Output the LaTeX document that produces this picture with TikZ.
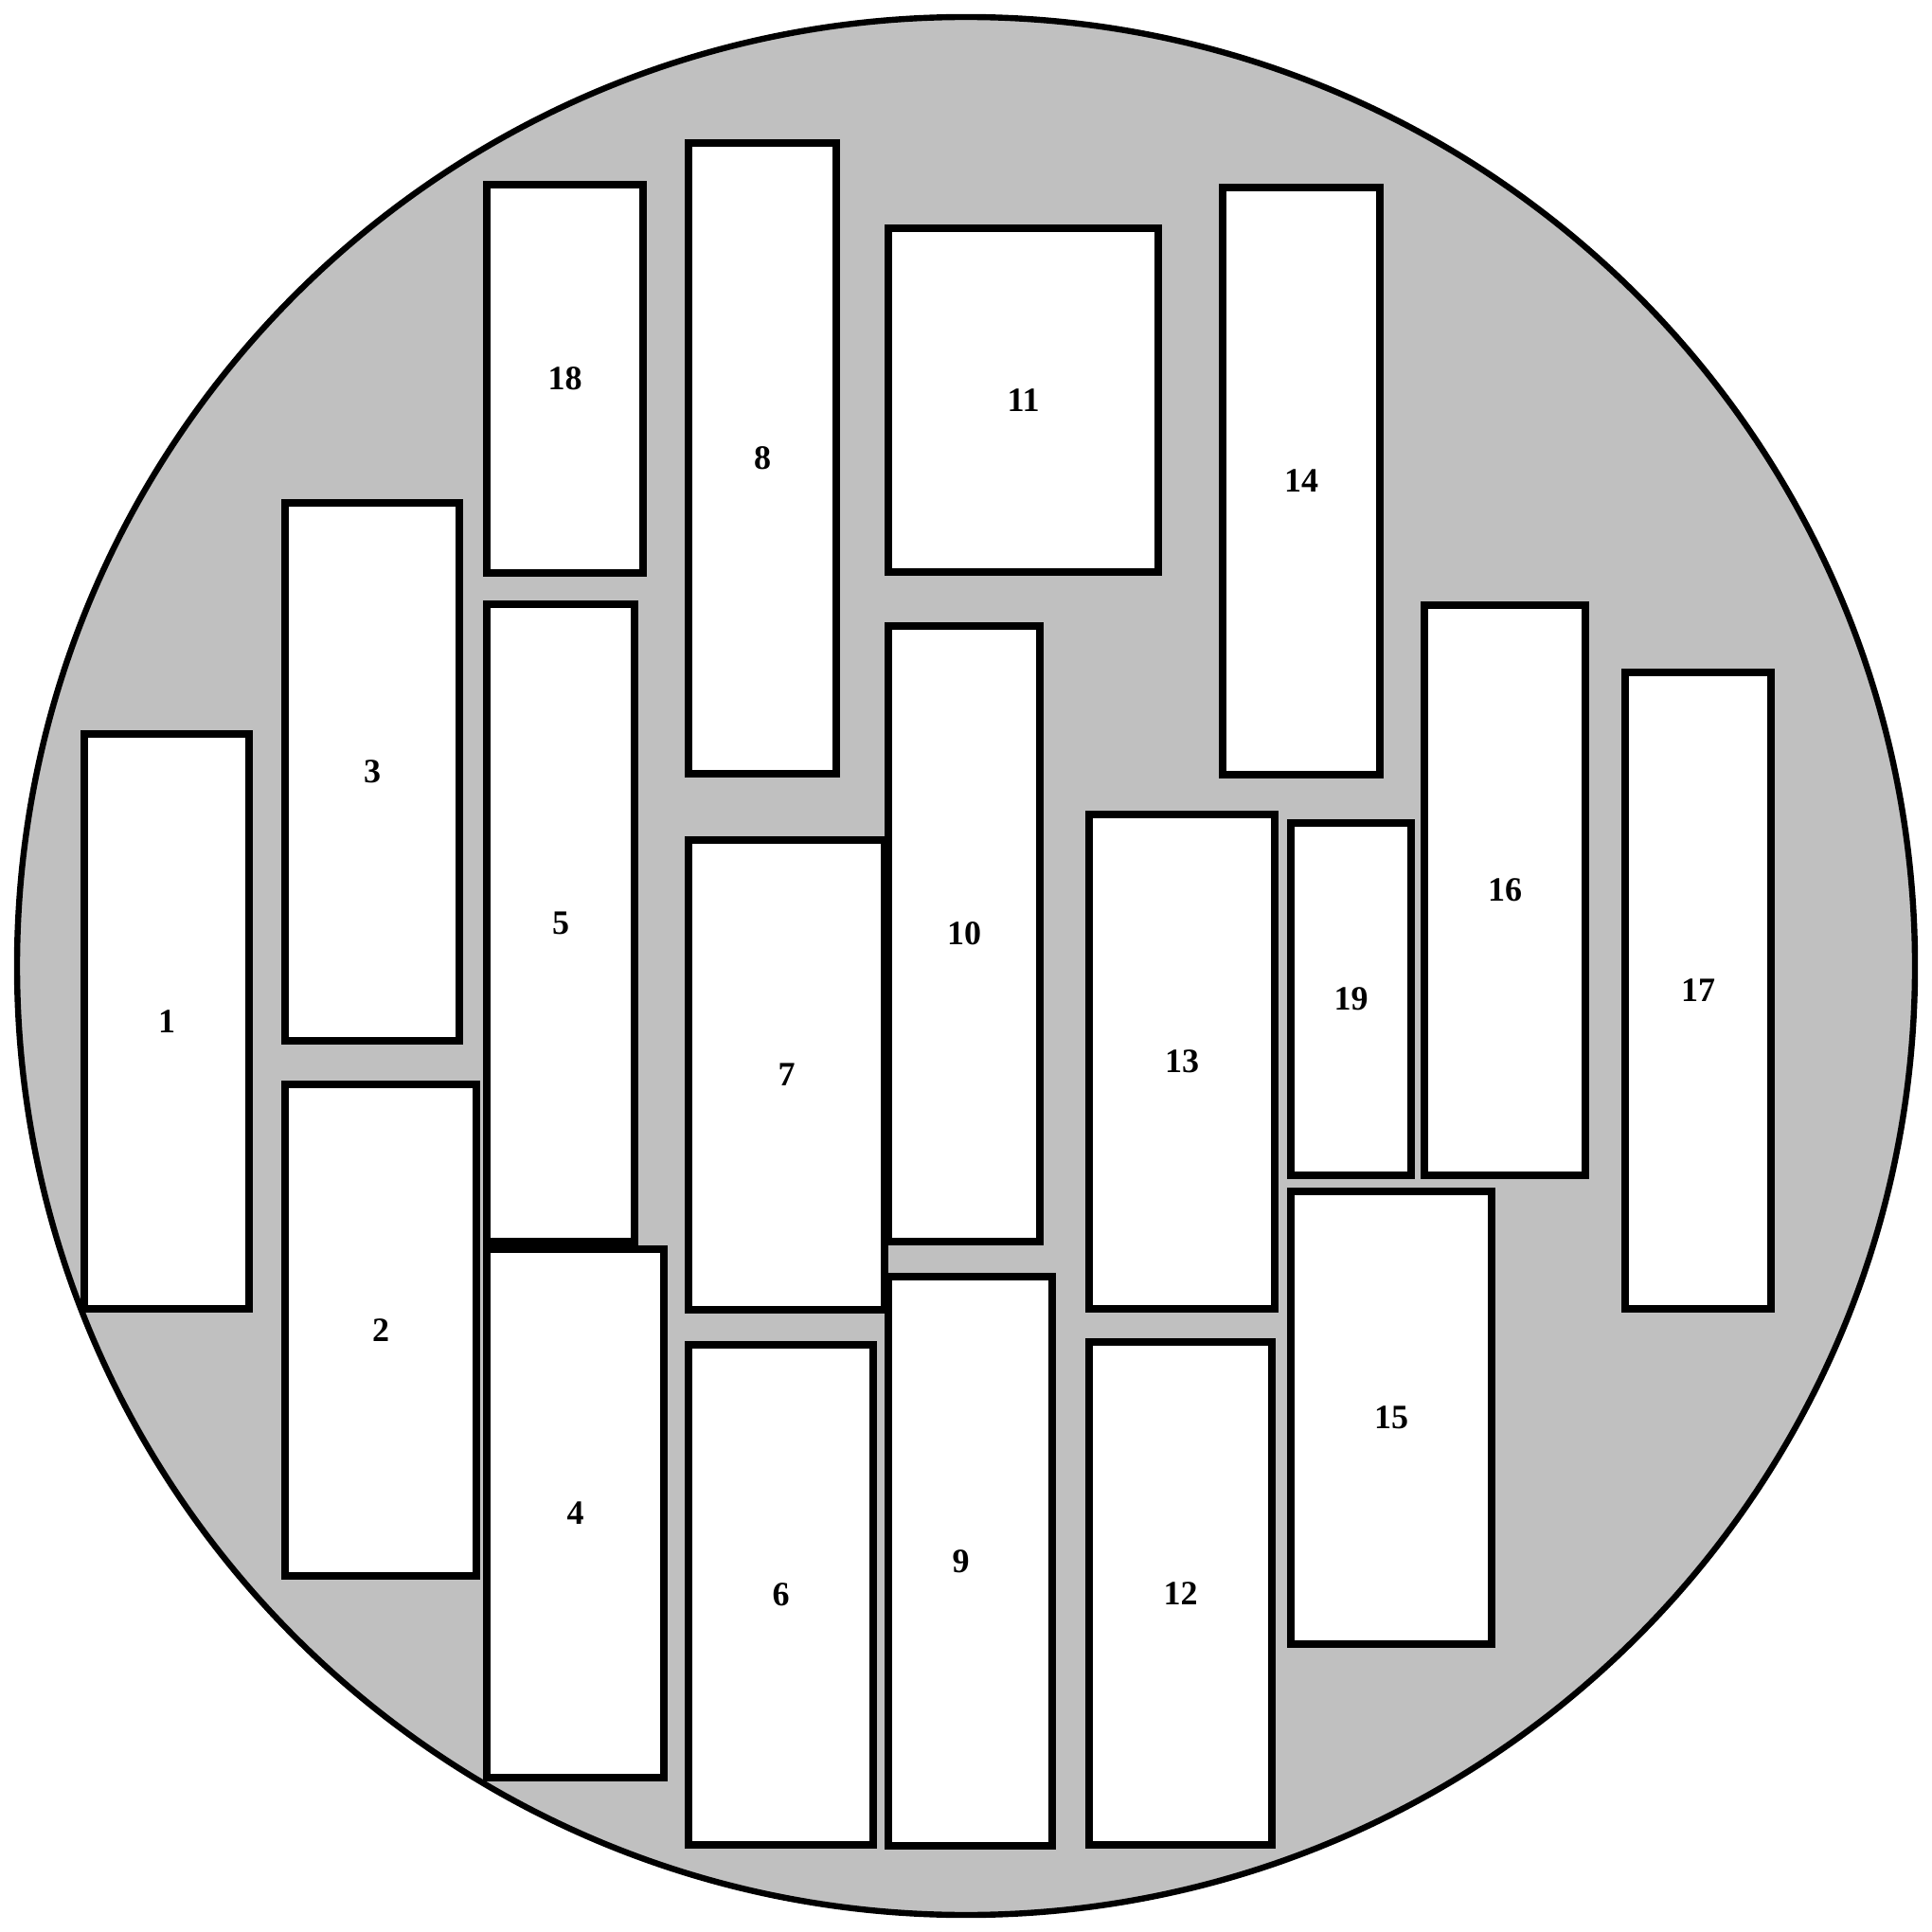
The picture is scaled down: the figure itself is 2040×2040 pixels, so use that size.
\documentclass[tikz,border=0pt]{standalone}
\usepackage{fontspec}
\setmainfont{Liberation Serif}
\begin{document}
\begin{tikzpicture}[x=0.25pt,y=-0.25pt,
  lbl/.style={font=\fontsize{9}{10}\selectfont\bfseries, inner sep=0pt},
  box/.style={draw=black, fill=white, line width=2pt, inner sep=0pt, outer sep=0pt, lbl}]
\useasboundingbox (0,0) rectangle (2040,2040);
\fill[white] (0,0) rectangle (2040,2040);
\node[draw=black, line width=1.6pt, fill={rgb,255:red,192;green,192;blue,192}, circle,
  minimum size=501pt, inner sep=0pt] (disc) at (1020,1020) {};
\newcommand{\bx}[6]{%
  \node[box, minimum width={(#4-#2)*0.25pt}, minimum height={(#5-#3)*0.25pt}]
    (r#1) at ({(#2+#4)/2},{(#3+#5)/2}) {#6};}
\bx{1}{89}{775}{263}{1382}{1}
\bx{3}{301}{531}{485}{1099}{3}
\bx{2}{301}{1145}{503}{1664}{2}
\bx{18}{514}{195}{679}{605}{18}
\bx{5}{514}{638}{670}{1311}{5}
\bx{4}{514}{1319}{701}{1877}{4}
\bx{8}{727}{151}{883}{817}{8}
\bx{7}{727}{887}{934}{1383}{7}
\bx{6}{727}{1420}{922}{1948}{6}
\bx{11}{938}{241}{1223}{604}{11}
\bx{10}{938}{661}{1098}{1311}{10}
\bx{9}{938}{1348}{1111}{1949}{}
\node[lbl] (l9) at ([xshift=-2.5pt]r9.center) {9};
\bx{13}{1150}{860}{1346}{1382}{13}
\bx{12}{1150}{1417}{1343}{1948}{12}
\bx{14}{1291}{198}{1457}{818}{14}
\bx{19}{1363}{869}{1490}{1241}{19}
\bx{15}{1363}{1258}{1575}{1736}{15}
\bx{16}{1504}{639}{1674}{1241}{16}
\bx{17}{1716}{710}{1870}{1382}{17}
\end{tikzpicture}
\end{document}
